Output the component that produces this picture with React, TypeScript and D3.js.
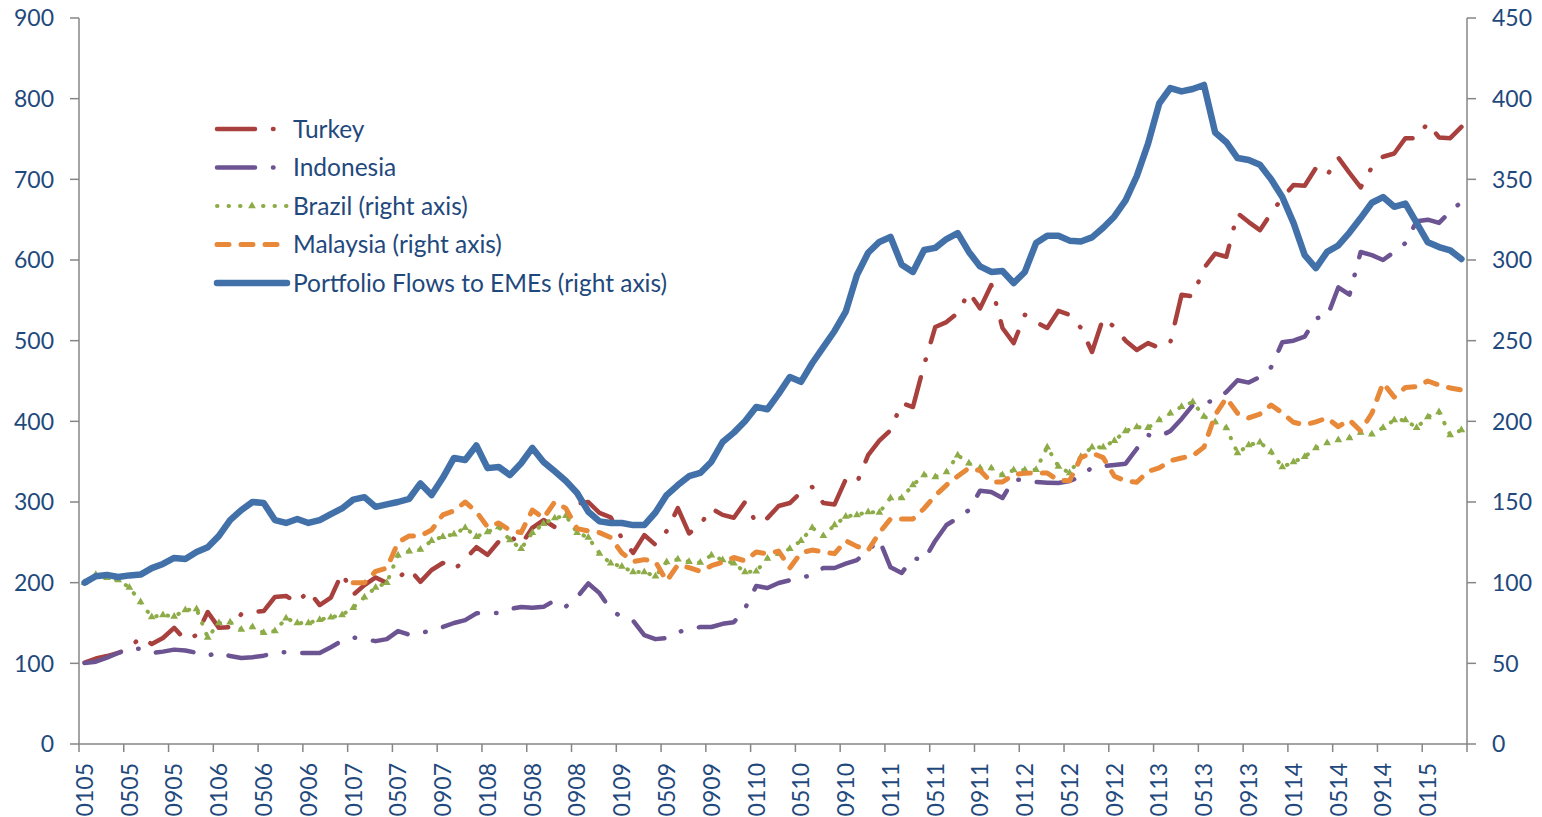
import React from 'react';
import * as d3 from 'd3';

// month labels shown under every 4th category (MMYY)
const xTickLabels = [
  '0105', '0505', '0905', '0106', '0506', '0906', '0107', '0507', '0907', '0108', '0508',
  '0908', '0109', '0509', '0909', '0110', '0510', '0910', '0111', '0511', '0911', '0112',
  '0512', '0912', '0113', '0513', '0913', '0114', '0514', '0914', '0115',
];
const leftTicks = [0, 100, 200, 300, 400, 500, 600, 700, 800, 900];
const rightTicks = [0, 50, 100, 150, 200, 250, 300, 350, 400, 450];

// monthly index values, Jan 2005 - Apr 2015
const turkey = [
  101, 106, 109, 113, 118.5, 132.6, 124, 131.4, 144, 129,
  135, 163.6, 144, 145, 161, 163.6, 164.8, 182.2, 183.5, 175,
  190, 172.3, 181.5, 212, 185, 197, 206.5, 199.6, 205.8, 217,
  201, 215.7, 224.4, 216, 229, 244, 234.5, 251, 258, 247,
  268, 277.7, 269, 282, 298, 300, 286.4, 281, 255, 236.8,
  259, 247, 264, 292.5, 261, 272, 292, 284, 280.5, 300,
  274, 280, 295, 298.7, 312, 318.6, 298.7, 297, 328, 324,
  358, 376, 389, 422.7, 417.7, 470, 517, 523, 534.3, 560,
  540, 569, 515.7, 497, 532, 523, 515.7, 537, 532, 516,
  486, 528, 517, 500, 488.4, 497, 491, 498, 557, 555,
  590, 608, 604, 658, 647, 637, 658, 677, 693, 692,
  714, 705, 727, 708, 690, 715, 728, 732, 751, 751,
  770, 752, 751, 765,
];
const indonesia = [
  100.5, 102, 107, 112.8, 118, 118, 112.8, 114.5, 117, 116,
  113, 109.5, 113.5, 109, 106.6, 107.5, 109.5, 112.8, 114, 113,
  112.8, 112.8, 120, 128, 132, 130, 127.5, 130, 140, 135.5,
  137, 141.5, 145, 150, 153.5, 162, 162.4, 162.4, 167.4, 169.8,
  169, 170, 178, 170.5, 182, 199, 187, 166.5, 157, 153,
  135, 130, 131.4, 138.8, 142, 145, 145, 149, 151, 168,
  196, 193.4, 199.6, 203, 206, 209.5, 218.2, 218.2, 223.5, 228,
  240, 253, 219, 212, 230.6, 228, 252, 271.5, 280, 290,
  314, 312.4, 305, 328, 327, 324.8, 324, 323.5, 326, 331.5,
  343, 344.5, 346, 347.5, 366, 383, 381, 388, 403, 420,
  423, 426, 436.3, 451, 448, 455, 467, 498, 500, 505,
  528, 529.3, 566, 557, 609.9, 606, 600, 610, 621, 648,
  650, 646, 660, 672,
];
const brazil = [
  100, 105, 103, 101.7, 97, 88, 78.7, 80, 79, 83,
  83.7, 66, 75, 75.5, 71, 72.5, 69, 70, 78, 75,
  75, 77, 78.5, 80, 84.5, 91, 97, 100, 117, 119.5,
  120.5, 126, 128.5, 130, 134, 128.5, 131.4, 134.5, 126.4, 121,
  131, 136.5, 140, 141.5, 131, 128, 118, 112, 110, 106.6,
  106.6, 104, 112.8, 114.5, 113, 112.5, 117, 114, 112, 106.6,
  107, 115, 118, 121, 126, 134, 129, 135.7, 141, 142,
  143.8, 143.5, 152.5, 152.5, 160.5, 166.7, 165.5, 168.6, 179, 174,
  171.1, 171, 166.7, 169.8, 169.8, 170, 184, 172, 168, 178,
  184, 184, 188, 194, 196.5, 196, 200.8, 205, 209, 212,
  203, 199.6, 195.9, 180.4, 185.3, 187, 181, 171.7, 174.8, 178,
  183.5, 186.6, 188.4, 189.7, 193, 192, 196, 200.8, 200.8, 196,
  202.7, 205.8, 191.5, 194.6,
];
const malaysia = [
  null, null, null, null, null, null, null, null, null, null, null, null,
  null, null, null, null, null, null, null, null, null, null, null, null,
  100, 100, 107, 109, 125, 129, 129, 132.6, 142, 144.5,
  150, 144, 134.5, 137, 132.5, 131, 145, 140, 150, 146,
  133.5, 132, 131, 128, 118.4, 113, 114.3, 113, 101, 111,
  109.3, 107, 110.5, 112.7, 115.6, 113.5, 119, 117.8, 119.6, 109.1,
  118.5, 120.2, 119, 118, 126, 122.5, 120, 131, 139.5, 139.5,
  139.5, 146, 154, 160.5, 166, 171, 169.5, 162.4, 162.4, 167,
  167.8, 168, 168, 163.3, 163.2, 177.5, 180.4, 177.5, 166, 163,
  162.2, 169, 171.1, 175.6, 177.3, 178.6, 184, 204, 214.5, 205,
  202.1, 204.5, 210.1, 205.2, 199.4, 197.8, 199.7, 202.1, 196.7, 200.8,
  194, 205, 223.8, 215, 221, 221.5, 225, 222.5, 220.7, 219.4,
];
const portfolio = [
  100, 104, 104.8, 103.5, 104.5, 105, 109, 111.6, 115.3, 114.7,
  119, 122, 129, 138.8, 145, 150, 149.4, 138.8, 137, 139.5,
  137, 138.8, 142.5, 146, 151.5, 153, 147, 148.5, 150, 152,
  161.5, 154.3, 165, 177.3, 176, 185, 171, 171.7, 166.7, 174,
  183.5, 174.8, 169, 163, 155.6, 144, 138, 137, 137, 135.7,
  135.7, 143.5, 154.3, 160.5, 166, 168, 175, 187.2, 193, 200,
  208.9, 207.5, 217, 227.5, 224.5, 236, 246, 256, 268, 290.7,
  304.5, 311.2, 314.3, 297, 292.6, 306.2, 307.5, 313, 316.7, 305,
  296, 292.6, 293.2, 285.7, 292.6, 310.5, 315, 315, 312, 311.5,
  314, 320, 327, 337, 352, 372, 397, 406.6, 404.5, 406,
  408.5, 379, 373, 363.2, 362, 359, 350, 339, 323, 303,
  295, 305, 309, 317, 326, 335.5, 339, 333, 335, 323,
  311, 308, 306, 300.6,
];

const W = 1542;
const H = 817;
const left = 79, right = 1467, top = 18, bottom = 744;
const textColor = '#1F497D';
const axisColor = '#868686';
const font = 'Lato, "Open Sans", sans-serif';

type Series = {
  name: string;
  values: (number | null)[];
  axis: 'left' | 'right';
  color: string;
  width: number;
  dash?: string;
  markers?: boolean;
};

const series: Series[] = [
  { name: 'Turkey', values: turkey, axis: 'left', color: '#A8413E', width: 4.5, dash: '38 18 0.5 18' },
  { name: 'Indonesia', values: indonesia, axis: 'left', color: '#6C5392', width: 4.5, dash: '38 18 0.5 18' },
  { name: 'Brazil (right axis)', values: brazil, axis: 'right', color: '#8DAC48', width: 4, dash: '0.5 11', markers: true },
  { name: 'Malaysia (right axis)', values: malaysia, axis: 'right', color: '#E8893A', width: 5, dash: '12 12' },
  { name: 'Portfolio Flows to EMEs (right axis)', values: portfolio, axis: 'right', color: '#4271AA', width: 6.5 },
];

export default function App() {
  const n = portfolio.length;
  const x = d3.scaleLinear().domain([0, n]).range([left, right]);
  const yL = d3.scaleLinear().domain([0, 900]).range([bottom, top]);
  const yR = d3.scaleLinear().domain([0, 450]).range([bottom, top]);

  const tri = d3.symbol().type(d3.symbolTriangle).size(26)();

  const xTicks = d3.range(0, n + 1, 4);

  return (
    <svg width={W} height={H} style={{ position: 'absolute', left: 0, top: 0, background: '#fff' }}>
      {/* axes */}
      <line x1={left} x2={left} y1={top} y2={bottom} stroke={axisColor} strokeWidth={1.5} />
      <line x1={right} x2={right} y1={top} y2={bottom} stroke={axisColor} strokeWidth={1.5} />
      <line x1={left} x2={right} y1={bottom} y2={bottom} stroke={axisColor} strokeWidth={1.5} />

      {leftTicks.map(t => (
        <g key={'l' + t}>
          <line x1={left - 9} x2={left} y1={yL(t)} y2={yL(t)} stroke={axisColor} strokeWidth={1.5} />
          <text x={54} y={yL(t) + 8.3} textAnchor="end"
            fontFamily={font} fontSize={23} fill={textColor}>{t}</text>
        </g>
      ))}
      {rightTicks.map(t => (
        <g key={'r' + t}>
          <line x1={right} x2={right + 9} y1={yR(t)} y2={yR(t)} stroke={axisColor} strokeWidth={1.5} />
          <text x={1492} y={yR(t) + 8.3} textAnchor="start"
            fontFamily={font} fontSize={23} fill={textColor}>{t}</text>
        </g>
      ))}
      {xTicks.map(k => (
        <line key={'xt' + k} x1={x(k)} x2={x(k)} y1={bottom} y2={bottom + 8} stroke={axisColor} strokeWidth={1.5} />
      ))}
      {xTickLabels.map((lab, j) => (
        <text key={lab} transform={`translate(${x(j * 4 + 0.5) + 8.3},${bottom + 19}) rotate(-90)`}
          textAnchor="end" fontFamily={font} fontSize={23} fill={textColor}>{lab}</text>
      ))}

      {/* series */}
      {series.map(s => {
        const sc = s.axis === 'left' ? yL : yR;
        const line = d3.line<number | null>()
          .defined(v => v != null)
          .x((_, i) => x(i + 0.5))
          .y(v => sc(v as number));
        return (
          <g key={s.name}>
            <path d={line(s.values) || ''} fill="none" stroke={s.color} strokeWidth={s.width}
              strokeDasharray={s.dash} strokeLinecap="round" strokeLinejoin="round" />
            {s.markers && s.values.map((v, i) => v == null ? null : (
              <path key={i} d={tri || ''} transform={`translate(${x(i + 0.5)},${sc(v)})`} fill={s.color} />
            ))}
          </g>
        );
      })}

      {/* legend */}
      {series.map((s, k) => {
        const ly = 129 + k * 38.5;
        return (
          <g key={'lg' + s.name}>
            <line x1={217} x2={287} y1={ly} y2={ly} stroke={s.color} strokeWidth={s.width}
              strokeDasharray={s.dash} strokeLinecap="round" />
            {s.markers && <path d={tri || ''} transform={`translate(252,${ly})`} fill={s.color} />}
            <text x={293} y={ly + 8.5} fontFamily={font} fontSize={24.5}
              fill={textColor}>{s.name}</text>
          </g>
        );
      })}
    </svg>
  );
}
